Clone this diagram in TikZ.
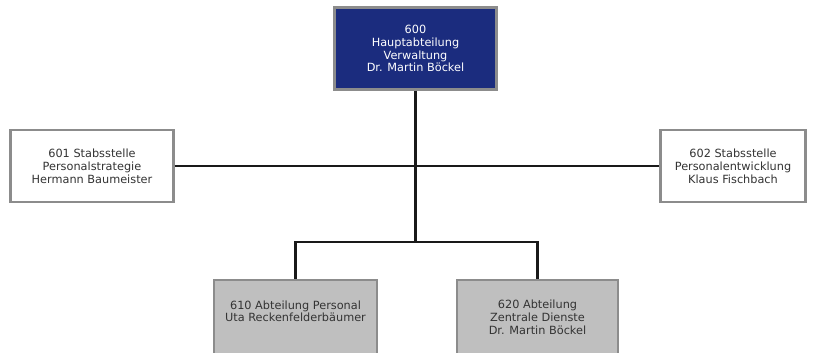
\documentclass[tikz,border=0pt]{standalone}
\usepackage{fontspec}
\setmainfont{DejaVu Sans}
\begin{document}
\begin{tikzpicture}[x=1pt,y=-1pt,
  unit/.style={draw=black!45,line width=2.2pt,align=center,inner sep=0pt,
    font=\fontsize{11.3}{12.8}\selectfont},
  headbox/.style={unit,fill=headblue,text=white},
  staffbox/.style={unit,fill=white,text=black!80},
  deptbox/.style={unit,fill=black!25,text=black!80},
  link/.style={line width=2.6pt,black!90}]
\definecolor{headblue}{HTML}{1B2C7E}
\useasboundingbox (0,0) rectangle (813,353);
% head of the division
\node[headbox,minimum width=162,minimum height=82] (h) at (415.5,48.5)
  {600\\Hauptabteilung\\Verwaltung\\Dr. Martin Böckel};
% staff units
\node[staffbox,minimum width=163,minimum height=72] (s1) at (92,166)
  {601 Stabsstelle\\Personalstrategie\\Hermann Baumeister};
\node[staffbox,minimum width=145,minimum height=72] (s2) at (733,166)
  {602 Stabsstelle\\Personalentwicklung\\Klaus Fischbach};
% departments
\node[deptbox,minimum width=163,minimum height=74] (d1) at (295.5,317)
  {};
\node[anchor=north,align=center,font=\fontsize{11.3}{12.8}\selectfont,text=black!80]
  (d1t) at (295.5,297) {610 Abteilung Personal\\Uta Reckenfelderbäumer};
\node[deptbox,minimum width=161,minimum height=74] (d2) at (537.5,317)
  {620 Abteilung\\Zentrale Dienste\\Dr. Martin Böckel};
% connectors
\coordinate (fork) at (h.south |- 0,242);
\draw[link] (h.south) -- (fork);
\draw[link] (s1.east) -- (s2.west);
\draw[link] (d1.north) |- (fork) -| (d2.north);
\end{tikzpicture}
\end{document}
